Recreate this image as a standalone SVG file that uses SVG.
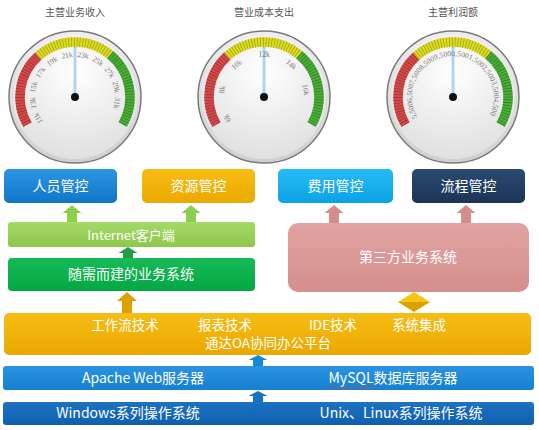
<svg xmlns="http://www.w3.org/2000/svg" xmlns:xlink="http://www.w3.org/1999/xlink" width="539" height="430" viewBox="0 0 539 430">
<style>
.t{font-family:"Noto Sans CJK SC","Noto Sans",sans-serif;fill:#fff;text-anchor:middle}
.title{font-family:"Noto Sans CJK SC","Noto Sans",sans-serif;font-size:10px;fill:#555;text-anchor:middle}
.lbl{font-family:"Liberation Serif",serif;font-size:7.5px;fill:#777;text-anchor:middle}
.band{fill:none;stroke-width:9.5}
.tick{fill:none;stroke-width:9.5;stroke-dasharray:0.7 2.1}
</style>
<defs>
<radialGradient id="face" cx="0.5" cy="0.3" r="0.75">
<stop offset="0" stop-color="#ffffff"/><stop offset="1" stop-color="#dedede"/>
</radialGradient>
<linearGradient id="rim" x1="0" y1="0" x2="0" y2="1">
<stop offset="0" stop-color="#eeeeee"/><stop offset="1" stop-color="#cfcfcf"/>
</linearGradient>
<linearGradient id="gBlue" x1="0" y1="0" x2="0" y2="1"><stop offset="0" stop-color="#2b95e3"/><stop offset="1" stop-color="#1176c8"/></linearGradient>
<linearGradient id="gGold" x1="0" y1="0" x2="0" y2="1"><stop offset="0" stop-color="#f7bd14"/><stop offset="1" stop-color="#eba900"/></linearGradient>
<linearGradient id="gCyan" x1="0" y1="0" x2="0" y2="1"><stop offset="0" stop-color="#28baf5"/><stop offset="1" stop-color="#0aa3e6"/></linearGradient>
<linearGradient id="gNavy" x1="0" y1="0" x2="0" y2="1"><stop offset="0" stop-color="#2b4b71"/><stop offset="1" stop-color="#1b3454"/></linearGradient>
<linearGradient id="gLGreen" x1="0" y1="0" x2="0" y2="1"><stop offset="0" stop-color="#a4da68"/><stop offset="1" stop-color="#8dc84b"/></linearGradient>
<linearGradient id="gGreen" x1="0" y1="0" x2="0" y2="1"><stop offset="0" stop-color="#16ba56"/><stop offset="1" stop-color="#03a845"/></linearGradient>
<linearGradient id="gPink" x1="0" y1="0" x2="0" y2="1"><stop offset="0" stop-color="#e0a3a1"/><stop offset="1" stop-color="#d58f8d"/></linearGradient>
<linearGradient id="gOA" x1="0" y1="0" x2="0" y2="1"><stop offset="0" stop-color="#f6bd14"/><stop offset="1" stop-color="#eaa800"/></linearGradient>
<linearGradient id="gApache" x1="0" y1="0" x2="0" y2="1"><stop offset="0" stop-color="#2b94e2"/><stop offset="1" stop-color="#1480d0"/></linearGradient>
<linearGradient id="gWin" x1="0" y1="0" x2="0" y2="1"><stop offset="0" stop-color="#1d72c2"/><stop offset="1" stop-color="#0f5eae"/></linearGradient>
<g id="gaugeBase">
<circle r="66" fill="url(#rim)" stroke="#7a7a7a" stroke-width="1.5"/>
<circle r="62" fill="url(#face)"/>
<path class="band" stroke="#d24b4b" d="M-47.63,27.5 A55,55 0 0 1 -36.8,-40.87"/>
<path class="band" stroke="#dcdc22" d="M-36.8,-40.87 A55,55 0 0 1 35.35,-42.13"/>
<path class="band" stroke="#4cae38" d="M35.35,-42.13 A55,55 0 0 1 47.63,27.5"/>
<path class="tick" stroke="#a42c2c" d="M-47.63,27.5 A55,55 0 0 1 -36.8,-40.87"/>
<path class="tick" stroke="#9c9c10" d="M-36.8,-40.87 A55,55 0 0 1 35.35,-42.13"/>
<path class="tick" stroke="#2b7d20" d="M35.35,-42.13 A55,55 0 0 1 47.63,27.5"/>
<line x1="0" y1="0" x2="0" y2="-50" stroke="#8fbfe6" stroke-width="2.6"/>
<line x1="0" y1="-2" x2="0" y2="-49" stroke="#d8ecfa" stroke-width="0.9"/>
<circle r="4" fill="#111"/>
</g>
<path id="arc3" d="M417.5,117.5 A41,41 0 1 1 488.5,117.5"/>
</defs>

<g id="gauge1">
<text class="title" x="75" y="16">主营业务收入</text>
<use xlink:href="#gaugeBase" transform="translate(75,97)"/>
<text class="lbl" transform="rotate(-120 75 97)" x="75" y="57">11k</text>
<text class="lbl" transform="rotate(-98.18 75 97)" x="75" y="57">13k</text>
<text class="lbl" transform="rotate(-76.36 75 97)" x="75" y="57">15k</text>
<text class="lbl" transform="rotate(-54.55 75 97)" x="75" y="57">17k</text>
<text class="lbl" transform="rotate(-32.73 75 97)" x="75" y="57">19k</text>
<text class="lbl" transform="rotate(-10.91 75 97)" x="75" y="57">21k</text>
<text class="lbl" transform="rotate(10.91 75 97)" x="75" y="57">23k</text>
<text class="lbl" transform="rotate(32.73 75 97)" x="75" y="57">25k</text>
<text class="lbl" transform="rotate(54.55 75 97)" x="75" y="57">27k</text>
<text class="lbl" transform="rotate(76.36 75 97)" x="75" y="57">29k</text>
<text class="lbl" transform="rotate(98.18 75 97)" x="75" y="57">31k</text>
</g>

<g id="gauge2">
<text class="title" x="264" y="16">营业成本支出</text>
<use xlink:href="#gaugeBase" transform="translate(264,97)"/>
<text class="lbl" transform="rotate(-120 264 97)" x="264" y="57">6k</text>
<text class="lbl" transform="rotate(-80 264 97)" x="264" y="57">8k</text>
<text class="lbl" transform="rotate(-40 264 97)" x="264" y="57">10k</text>
<text class="lbl" x="264" y="57">12k</text>
<text class="lbl" transform="rotate(40 264 97)" x="264" y="57">14k</text>
<text class="lbl" transform="rotate(80 264 97)" x="264" y="57">16k</text>
</g>

<g id="gauge3">
<text class="title" x="453" y="16">主营利润额</text>
<use xlink:href="#gaugeBase" transform="translate(453,97)"/>
<text class="lbl" style="text-anchor:start"><textPath xlink:href="#arc3" textLength="168" lengthAdjust="spacingAndGlyphs">5,5006,5007,5008,5009,5000,5001,5002,5003,5004,500</textPath></text>
</g>

<g id="connectors">
<path fill="#8ed04e" d="M72,205 l9.5,8 h-4.5 v9 h-10 v-9 h-4.5 z"/>
<path fill="#8ed04e" d="M191,205 l9.5,8 h-4.5 v9 h-10 v-9 h-4.5 z"/>
<path fill="#d48d8b" d="M334,205 l9.5,8 h-4.5 v10 h-10 v-10 h-4.5 z"/>
<path fill="#d48d8b" d="M466,205 l9.5,8 h-4.5 v10 h-10 v-10 h-4.5 z"/>
<path fill="#1f9e45" d="M128,247 l9.5,6 h-4.5 v5 h-10 v-5 h-4.5 z"/>
<path fill="#dca000" d="M127,292 l10,9 h-5 v12 h-10 v-12 h-5 z"/>
<path fill="#1a88d8" d="M258,355 l9.5,5 h-4.5 v6 h-10 v-6 h-4.5 z"/>
<path fill="#1570c8" d="M258,391 l9.5,5 h-4.5 v6 h-10 v-6 h-4.5 z"/>
<g id="diamond">
<polygon points="398,302 414,292 430,302" fill="#f6c516"/>
<polygon points="398,302 414,312 430,302" fill="#d9a200"/>
</g>
</g>

<g id="n-renyuan"><rect x="4" y="169" width="113" height="34" rx="5" fill="url(#gBlue)"/><text class="t" x="60.5" y="191" font-size="14">人员管控</text></g>
<g id="n-ziyuan"><rect x="142" y="169" width="113" height="34" rx="5" fill="url(#gGold)"/><text class="t" x="198.5" y="191" font-size="14">资源管控</text></g>
<g id="n-feiyong"><rect x="278" y="169" width="115" height="34" rx="5" fill="url(#gCyan)"/><text class="t" x="335.5" y="191" font-size="14">费用管控</text></g>
<g id="n-liucheng"><rect x="412" y="169" width="113" height="34" rx="5" fill="url(#gNavy)"/><text class="t" x="468.5" y="191" font-size="14">流程管控</text></g>
<g id="n-internet"><rect x="8" y="222" width="247" height="25" rx="3" fill="url(#gLGreen)"/><text class="t" x="131" y="240" font-size="13">Internet客户端</text></g>
<g id="n-suixu"><rect x="8" y="258" width="247" height="33" rx="4" fill="url(#gGreen)"/><text class="t" x="131" y="279" font-size="14">随需而建的业务系统</text></g>
<g id="n-disanfang"><rect x="288" y="223" width="241" height="69" rx="10" fill="url(#gPink)"/><text class="t" x="408" y="262" font-size="14">第三方业务系统</text></g>
<g id="n-oa"><rect x="4" y="313" width="527" height="42" rx="5" fill="url(#gOA)"/>
<text class="t" x="125" y="330" font-size="13.5">工作流技术</text>
<text class="t" x="225" y="330" font-size="13.5">报表技术</text>
<text class="t" x="333" y="330" font-size="13.5">IDE技术</text>
<text class="t" x="419" y="330" font-size="13.5">系统集成</text>
<text class="t" x="268" y="348" font-size="13.5">通达OA协同办公平台</text>
</g>
<g id="n-web"><rect x="3" y="366" width="531" height="24" rx="3" fill="url(#gApache)"/>
<text class="t" x="143" y="383" font-size="14">Apache Web服务器</text>
<text class="t" x="393" y="383" font-size="14">MySQL数据库服务器</text>
<path d="M328,387.5 q1.5,-1.5 3,0 t3,0 t3,0 t3,0 t3,0 t3,0 t3,0 t3,0 t3,0 t3,0 t3,0 t3,0 t3,0 t3,0 t3,0 t3,0" fill="none" stroke="#d04848" stroke-width="0.8"/>
</g>
<g id="n-os"><rect x="3" y="402" width="531" height="23" rx="3" fill="url(#gWin)"/>
<text class="t" x="128" y="418" font-size="14">Windows系列操作系统</text>
<text class="t" x="401" y="418" font-size="14">Unix、Linux系列操作系统</text>
</g>
</svg>
